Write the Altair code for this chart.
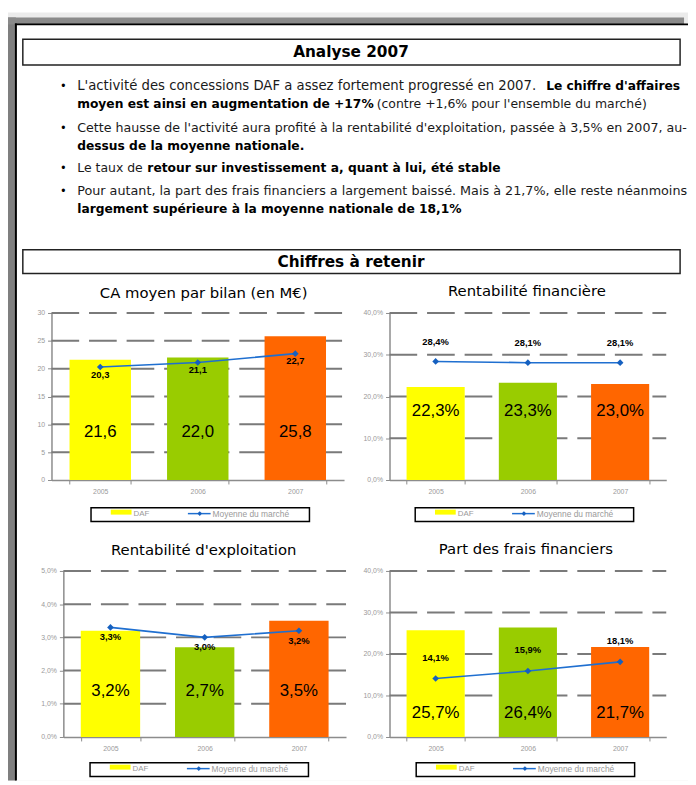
import altair as alt
import pandas as pd

# ---------------- data ----------------
years = ["2005", "2006", "2007"]
bar_colors = ["#FFFF00", "#99CC00", "#FF6600"]

ca_daf = [21.6, 22.0, 25.8]
ca_marche = [20.3, 21.1, 22.7]
rf_daf = [22.3, 23.3, 23.0]
rf_marche = [28.4, 28.1, 28.1]
re_daf = [3.2, 2.7, 3.5]
re_marche = [3.3, 3.0, 3.2]
pf_daf = [25.7, 26.4, 21.7]
pf_marche = [14.1, 15.9, 18.1]

titles = ["CA moyen par bilan (en M€)", "Rentabilité financière",
          "Rentabilité d'exploitation", "Part des frais financiers"]
legend_labels = ["DAF", "Moyenne du marché"]
header_title = "Analyse 2007"
section_title = "Chiffres à retenir"

FONT = "Liberation Sans"
FONT2 = "DejaVu Sans"
BLUE = "#1f6fd0"
BLUE_DARK = "#1560c0"
GRID = "#7a7a7a"
AXIS = "#8c8c8c"
LBL = "#9a9a9a"

one = pd.DataFrame({"a": [0]})


def fr(v, pct):
    s = f"{v:.1f}".replace(".", ",")
    return s + "%" if pct else s


def vtxt(s, x, y, font=FONT, **kw):
    return alt.Chart(one).mark_text(text=s, font=font, **kw).encode(
        x=alt.value(x), y=alt.value(y))


def vrect(x1, y1, x2, y2, **kw):
    return alt.Chart(one).mark_rect(**kw).encode(
        x=alt.value(x1), x2=alt.value(x2), y=alt.value(y1), y2=alt.value(y2))


def panel(title, daf, marche, ymax, ystep, pct, label_at, mdy, x0, width,
          height, tx, ty, lx, ly):
    df = pd.DataFrame({
        "year": years, "daf": daf, "marche": marche, "color": bar_colors,
        "daf_lbl": [fr(v, pct) for v in daf],
        "m_lbl": [fr(v, pct) for v in marche],
    })
    ticks = list(range(0, ymax + 1, ystep))
    grid_df = pd.DataFrame({"v": ticks[1:]})
    yscale = alt.Scale(domain=[0, ymax], nice=False, zero=True)
    if x0:
        xscale = alt.Scale(domain=years, range=[x0, width],
                           paddingInner=0.37, paddingOuter=0.185)
    else:
        xscale = alt.Scale(domain=years, paddingInner=0.37, paddingOuter=0.185)
    if pct:
        lexpr = "replace(format(datum.value, '.1f'), '.', ',') + '%'"
    else:
        lexpr = "format(datum.value, 'd')"
    y_axis = alt.Axis(values=ticks, labelExpr=lexpr, grid=False, title=None,
                      domainColor=AXIS, domainWidth=1.5, tickColor=AXIS,
                      tickSize=4, tickWidth=1, labelColor=LBL, labelFontSize=7,
                      labelFont=FONT, labelPadding=3, offset=-x0)
    x_axis = alt.Axis(tickBand="extent", labelAngle=0, title=None, grid=False,
                      domainColor=AXIS, domainWidth=1.5, tickColor=AXIS,
                      tickSize=4, tickWidth=1, labelColor=LBL, labelFontSize=7,
                      labelFont=FONT, labelPadding=4)
    X = alt.X("year:N", scale=xscale, axis=x_axis, sort=years)

    grid = alt.Chart(grid_df).mark_rule(
        color=GRID, strokeWidth=2, strokeDash=[28, 10]).encode(
        y=alt.Y("v:Q", scale=yscale, axis=y_axis),
        x=alt.value(x0), x2=alt.value(width))
    base = alt.Chart(df)
    bars = base.mark_bar().encode(
        x=X, y=alt.Y("daf:Q", scale=yscale, axis=y_axis),
        color=alt.Color("color:N", scale=None))
    blbl = base.mark_text(font=FONT, fontSize=17, color="black").encode(
        x=X, y=alt.YDatum(label_at, type="quantitative", scale=yscale, axis=y_axis),
        text="daf_lbl:N")
    line = base.mark_line(color=BLUE, strokeWidth=1.6).encode(
        x=X, y=alt.Y("marche:Q", scale=yscale, axis=y_axis))
    pts = base.mark_point(shape="diamond", filled=True, size=45,
                          color=BLUE_DARK, opacity=1).encode(
        x=X, y=alt.Y("marche:Q", scale=yscale, axis=y_axis))
    mlbl = base.mark_text(font=FONT, fontSize=9.5, fontWeight="bold",
                          color="black", dy=mdy).encode(
        x=X, y=alt.Y("marche:Q", scale=yscale, axis=y_axis), text="m_lbl:N")

    ttl = vtxt(title, tx, ty, font=FONT2, fontSize=15, color="black")
    box = vrect(lx, ly, lx + 221, ly + 14, fill="white", stroke="black",
                strokeWidth=1.5)
    sw = vrect(lx + 20, ly + 2, lx + 41, ly + 7, fill=bar_colors[0])
    t1 = vtxt(legend_labels[0], lx + 43, ly + 6, fontSize=8, color=LBL,
              align="left")
    lr = alt.Chart(one).mark_rule(color=BLUE, strokeWidth=1.5).encode(
        x=alt.value(lx + 98), x2=alt.value(lx + 121), y=alt.value(ly + 6))
    ld = alt.Chart(one).mark_point(shape="diamond", filled=True, size=22,
                                   color=BLUE_DARK, opacity=1).encode(
        x=alt.value(lx + 110), y=alt.value(ly + 6))
    t2 = vtxt(legend_labels[1], lx + 123, ly + 6, fontSize=8.5, color=LBL,
              align="left")
    return alt.layer(grid, bars, blbl, line, pts, mlbl, ttl, box, sw, t1, lr,
                     ld, t2).properties(width=width, height=height)


c1 = panel(titles[0], ca_daf, ca_marche, 30, 5, False, 8.7, 8, 0, 296, 169,
           154, -20, 40, 197)
c2 = panel(titles[1], rf_daf, rf_marche, 40, 10, True, 16.6, -20, 0, 280, 169,
           139, -22, 26, 197)
c3 = panel(titles[2], re_daf, re_marche, 5, 1, True, 1.37, 10, 12, 298, 168,
           154, -21, 39, 194)
c4 = panel(titles[3], pf_daf, pf_marche, 40, 10, True, 5.7, -21, 0, 280, 168,
           138, -22, 27, 194)

# ---------------- header (page coords shifted to header origin) ----------------
OX, OY = 52, 120


def hrect(x1, y1, x2, y2, **kw):
    return vrect(x1 - OX, y1 - OY, x2 - OX, y2 - OY, **kw)


def htxt(s, px, py, **kw):
    return vtxt(s, px - OX, py - OY, **kw)


NORMAL = dict(font=FONT2, fontSize=12.6, color="#1a1a1a", align="left")
BOLD = dict(font=FONT2, fontSize=12.4, color="black", align="left",
            fontWeight="bold")

hdr_layers = [
    hrect(8, 8, 696, 785, fill="#ebebeb"),
    hrect(8, 13, 16, 785, fill="#7f7f7f"),
    hrect(8, 13, 692, 20, fill="#8a8a8a"),
    hrect(16, 20, 696, 785, fill="white"),
    hrect(15, 19, 17, 785, fill="black"),
    hrect(15, 19, 696, 21, fill="black"),
    hrect(23, 35, 688, 61, fill="white", stroke="#222222", strokeWidth=1.5),
    htxt(header_title, 355, 48, font=FONT2, fontSize=15.5, fontWeight="bold",
         color="black"),
    hrect(23, 248, 688, 272, fill="white", stroke="#222222", strokeWidth=1.5),
    htxt(section_title, 355, 260, font=FONT2, fontSize=15.5, fontWeight="bold",
         color="black"),
]
for by in [82, 125, 165, 189]:
    hdr_layers.append(htxt("•", 62, by, fontSize=12, color="black", align="left"))
hdr_layers += [
    htxt("L'activité des concessions DAF a assez fortement progressé en 2007.", 78, 82, **dict(NORMAL, fontSize=13.4)),
    htxt("Le chiffre d'affaires", 688, 82, **dict(BOLD, align="right")),
    htxt("moyen est ainsi en augmentation de +17%", 78, 101, **BOLD),
    htxt("(contre +1,6% pour l'ensemble du marché)", 381, 101, **NORMAL),
    htxt("Cette hausse de l'activité aura profité à la rentabilité d'exploitation, passée à 3,5% en 2007, au-", 78, 125, **dict(NORMAL, fontSize=12.8)),
    htxt("dessus de la moyenne nationale.", 78, 143, **BOLD),
    htxt("Le taux de", 78, 165, **NORMAL),
    htxt("retour sur investissement a, quant à lui, été stable", 149, 165, **BOLD),
    htxt("Pour autant, la part des frais financiers a largement baissé. Mais à 21,7%, elle reste néanmoins", 78, 189, **dict(NORMAL, fontSize=12.9)),
    htxt("largement supérieure à la moyenne nationale de 18,1%", 78, 207, **BOLD),
]
header = alt.layer(*hdr_layers).properties(width=296, height=100)
blank = vrect(0, 0, 1, 1, opacity=0).properties(width=1, height=100)

chart = alt.concat(header, blank, c1, c2, c3, c4, columns=2,
                   spacing={"row": 92, "column": 44}).properties(
    bounds="flush", align="each", padding=0, background="white"
).configure_view(strokeWidth=0)

chart.save("out.html", embed_options={"renderer": "svg", "actions": False})
